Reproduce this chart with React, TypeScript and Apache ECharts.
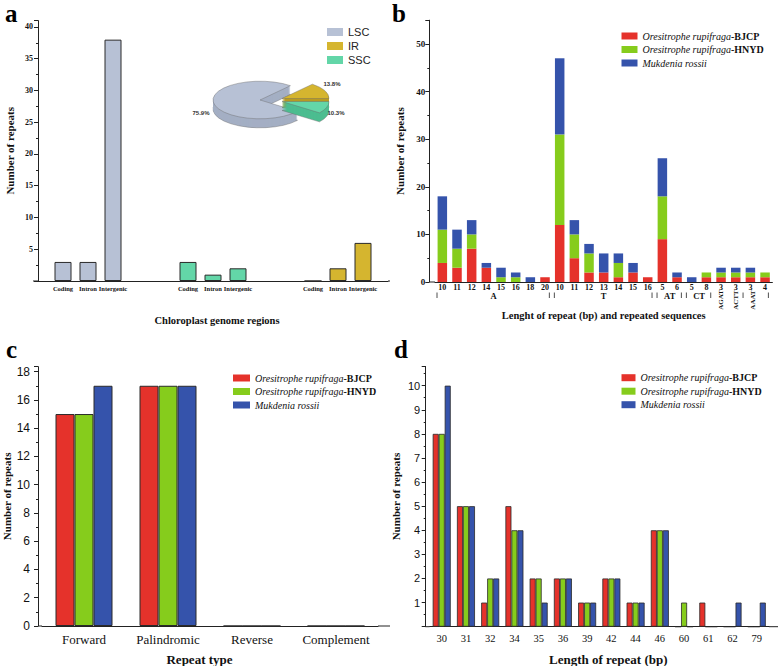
import React, { useEffect, useRef } from 'react';
import * as echarts from 'echarts';

const SERIF = "'Liberation Serif', 'Times New Roman', serif";
const SANS = "'Liberation Sans', Arial, sans-serif";
const INK = '#111';

// ---------- panel a : repeats per chloroplast region ----------
const regionNames = ['LSC', 'IR', 'SSC'];
const regionCategories = ['', 'Coding', 'Intron', 'Intergenic', '', '', 'Coding', 'Intron', 'Intergenic', '', '', 'Coding', 'Intron', 'Intergenic', ''];
const lscRepeats = [3, 3, 38];
const sscRepeats = [3, 1, 2];
const irRepeats = [0, 2, 6];
const regionShare = [75.9, 13.8, 10.3]; // LSC, IR, SSC

// ---------- panel b : SSR length and motif ----------
const ssrLengths = ['10', '11', '12', '14', '15', '16', '18', '20', '10', '11', '12', '13', '14', '15', '16', '5', '6', '5', '8', '3', '3', '3', '4'];
const ssrGroups = ['A', 'T', 'AT', 'CT'];
const ssrGroupSpans = [[0, 7], [8, 14], [15, 16], [17, 18]];
const ssrMotifs = ['AGAT', 'ACTT', 'AAAT'];
const ssrMotifIndex = [19, 20, 21];
const ssrBJCP = [4, 3, 7, 3, 0, 0, 0, 1, 12, 5, 2, 2, 1, 2, 1, 9, 1, 0, 1, 1, 1, 1, 1];
const ssrHNYD = [7, 4, 3, 0, 1, 1, 0, 0, 19, 5, 4, 0, 3, 0, 0, 9, 0, 0, 1, 1, 1, 1, 1];
const ssrMukdenia = [7, 4, 3, 1, 2, 1, 1, 0, 16, 3, 2, 4, 2, 2, 0, 8, 1, 1, 0, 1, 1, 1, 0];

// ---------- panel c : repeat types ----------
const repeatTypes = ['Forward', 'Palindromic', 'Reverse', 'Complement'];
const typeBJCP = [15, 17, 0, 0];
const typeHNYD = [15, 17, 0, 0];
const typeMukdenia = [17, 17, 0, 0];

// ---------- panel d : repeat lengths ----------
const repeatLengths = ['30', '31', '32', '34', '35', '36', '39', '42', '44', '46', '60', '61', '62', '79'];
const lenBJCP = [8, 5, 1, 5, 2, 2, 1, 2, 1, 4, 0, 1, 0, 0];
const lenHNYD = [8, 5, 2, 4, 2, 2, 1, 2, 1, 4, 1, 0, 0, 0];
const lenMukdenia = [10, 5, 2, 4, 1, 2, 1, 2, 1, 4, 0, 0, 1, 1];

const speciesNames = ['Oresitrophe rupifraga-BJCP', 'Oresitrophe rupifraga-HNYD', 'Mukdenia rossii'];

// ---------- styling ----------
const regionColors = ['#b7c1d5', '#d5b52f', '#63d6a8'];
const regionSideColors = ['#a4afc4', '#b89a22', '#4cbd90'];
const speciesColors = ['#e5322b', '#86cc1c', '#3553ab'];

const GA = { left: 38, top: 20.6, width: 350, height: 260.4 };
const GB = { left: 435, top: 20.2, width: 337.4, height: 261.8 };
const GC = { left: 42, top: 366.7, width: 336, height: 259.3 };
const GD = { left: 429.6, top: 366.4, width: 339.3, height: 260.3 };

const pieCenter = [260, 100];
const pieShift = [[0, 0], [22, -1.5], [22, 1.5]];
const pieLabelPos = [[201, 113], [332, 84], [336, 113]];

function buildOption() {
  const lineStyle = { color: '#222', width: 1 };

  const yAxis = (gridIndex: number, max: number, interval: number, offset: number, label: any, nameGap: number, showMin: boolean) => ({
    type: 'value', gridIndex, min: 0, max, interval, offset,
    axisLine: { show: true, lineStyle },
    axisTick: { show: true, length: 4, lineStyle },
    minorTick: { show: true, splitNumber: 2, length: 2, lineStyle },
    splitLine: { show: false },
    axisLabel: { showMaxLabel: false, showMinLabel: showMin, color: INK, ...label },
    name: 'Number of repeats', nameLocation: 'middle', nameGap,
    nameTextStyle: { fontFamily: SERIF, fontWeight: 'bold', fontSize: 11, color: INK },
  });

  const xAxis = (gridIndex: number, data: string[], label: any, name: string, nameGap: number, nameSize: number, namePad: number[], boundaryGap = true) => ({
    type: 'category', gridIndex, data, boundaryGap,
    axisLine: { show: true, lineStyle },
    axisTick: { show: false },
    axisLabel: { interval: 0, color: INK, ...label },
    name, nameLocation: 'middle', nameGap,
    nameTextStyle: { fontFamily: SERIF, fontWeight: 'bold', fontSize: nameSize, color: INK, padding: namePad },
  });

  // panel a series (one per region, stacked so that they share the slot)
  const regionSlots = [[1, 2, 3], [11, 12, 13], [6, 7, 8]];
  const regionValues = [lscRepeats, irRepeats, sscRepeats];
  const aSeries = regionNames.map((n, r) => {
    const data: any[] = regionCategories.map(() => '-');
    regionSlots[r].forEach((slot, k) => { data[slot] = regionValues[r][k]; });
    return {
      type: 'bar', name: n, xAxisIndex: 0, yAxisIndex: 0, stack: 'region', barWidth: 17,
      data, itemStyle: { color: regionColors[r], borderColor: '#2a2a2a', borderWidth: 1 },
    };
  });

  const pieSeries = {
    type: 'custom', name: 'Region share', coordinateSystem: 'none', silent: true, z: 5,
    data: regionShare.map((v, i) => ({ name: regionNames[i], value: v })),
    renderItem: (params: any) => {
      const i = params.dataIndex;
      const total = regionShare.reduce((s, v) => s + v, 0);
      const ang = regionShare.map((v) => (v / total) * Math.PI * 2);
      const order = [1, 2, 0];
      let start = -ang[1];
      for (const k of order) { if (k === i) break; start += ang[k]; }
      const end = start + ang[i];
      const sq = 0.4, r = 47, thick = 9;
      const cx = pieCenter[0] + pieShift[i][0];
      const cy = pieCenter[1] + pieShift[i][1];
      const children: any[] = [];
      for (let t = thick; t >= 1; t--) {
        children.push({
          type: 'sector', shape: { cx: 0, cy: t / sq, r, r0: 0, startAngle: start, endAngle: end, clockwise: true },
          style: { fill: regionSideColors[i], stroke: t === thick ? '#6a6a6a' : null, lineWidth: 0.6, strokeNoScale: true },
        });
      }
      children.push({
        type: 'sector', shape: { cx: 0, cy: 0, r, r0: 0, startAngle: start, endAngle: end, clockwise: true },
        style: { fill: regionColors[i], stroke: '#6a6a6a', lineWidth: 0.6, strokeNoScale: true },
      });
      return {
        type: 'group', x: cx, y: cy,
        children: [
          { type: 'group', scaleY: sq, children },
          {
            type: 'text', x: pieLabelPos[i][0] - cx, y: pieLabelPos[i][1] - cy,
            style: { text: regionShare[i].toFixed(1) + '%', fontFamily: SANS, fontWeight: 'bold', fontSize: 6, fill: '#333', align: 'center', verticalAlign: 'middle' },
          },
        ],
      };
    },
  };

  const speciesItem = (k: number, border: number) => ({ color: speciesColors[k], borderColor: '#2a2a2a', borderWidth: border });
  const bSeries = [ssrBJCP, ssrHNYD, ssrMukdenia].map((d, k) => ({
    type: 'bar', name: speciesNames[k], xAxisIndex: 1, yAxisIndex: 1, stack: 'ssr', barWidth: 9.5, data: d,
    itemStyle: { color: speciesColors[k] },
  }));
  const cSeries = [typeBJCP, typeHNYD, typeMukdenia].map((d, k) => ({
    type: 'bar', name: speciesNames[k], xAxisIndex: 2, yAxisIndex: 2, barWidth: 19, barGap: '0%', data: d,
    itemStyle: speciesItem(k, 1),
  }));
  const dSeries = [lenBJCP, lenHNYD, lenMukdenia].map((d, k) => ({
    type: 'bar', name: speciesNames[k], xAxisIndex: 3, yAxisIndex: 3, barWidth: 6, barGap: '0%', data: d,
    itemStyle: speciesItem(k, 0.8),
  }));

  const legendFormatter = (name: string) => {
    const m = name.match(/^(.*)(-[A-Z]+)$/);
    return m ? `{i|${m[1]}}{b|${m[2]}}` : `{i|${name}}`;
  };
  const speciesLegend = (left: number, top: number, w: number) => ({
    data: speciesNames, left, top, orient: 'vertical', icon: 'rect', itemWidth: w, itemHeight: 7, itemGap: 1.5,
    selectedMode: false, formatter: legendFormatter, itemStyle: { borderWidth: 0 },
    textStyle: {
      lineHeight: 12,
      rich: {
        i: { fontFamily: SERIF, fontStyle: 'italic', fontSize: 10, color: INK },
        b: { fontFamily: SERIF, fontWeight: 'bold', fontSize: 10, color: INK },
      },
    },
  });

  // panel b group labels
  const slotB = GB.width / ssrLengths.length;
  const bx = (i: number) => GB.left + (i + 0.5) * slotB;
  const bEdge = (i: number) => GB.left + i * slotB;
  const graphics: any[] = [];
  const sep = (x: number) => graphics.push({ type: 'line', shape: { x1: x, y1: 292.5, x2: x, y2: 298 }, style: { stroke: '#222', lineWidth: 0.8 } });
  ssrGroups.forEach((g, gi) => {
    const [s, e] = ssrGroupSpans[gi];
    graphics.push({
      type: 'text', x: (bx(s) + bx(e)) / 2, y: 295.5,
      style: { text: g, fontFamily: SERIF, fontWeight: 'bold', fontSize: 8.5, fill: INK, align: 'center', verticalAlign: 'middle' },
    });
    sep(bEdge(s) + 2);
    sep(bEdge(e + 1) - 3);
  });
  sep(bEdge(21));
  sep(bEdge(ssrLengths.length) - 4);
  ssrMotifs.forEach((m, k) => {
    graphics.push({
      type: 'text', x: bx(ssrMotifIndex[k]) + (k === 2 ? 2.5 : 0), y: 300, rotation: Math.PI / 2,
      style: { text: m, fontFamily: SERIF, fontWeight: 'bold', fontSize: 7, fill: INK, align: 'center', verticalAlign: 'middle' },
    });
  });

  // panel letters
  [['a', 5, 1], ['b', 392, 1], ['c', 6, 337], ['d', 394, 337]].forEach(([t, x, y]) => {
    graphics.push({ type: 'text', x, y, style: { text: t, fontFamily: SERIF, fontWeight: 'bold', fontSize: 25, fill: '#000' } });
  });

  // x-axis line extensions beyond the category slots
  const ext = (x1: number, x2: number, y: number) => graphics.push({ type: 'line', shape: { x1, y1: y, x2, y2: y }, style: { stroke: '#222', lineWidth: 1 } });
  ext(33, GA.left, GA.top + GA.height);
  ext(GA.left + GA.width, 390, GA.top + GA.height);
  ext(429.3, GB.left, GB.top + GB.height);
  ext(38, GC.left, GC.top + GC.height);
  ext(GC.left + GC.width, 390, GC.top + GC.height);
  ext(425.7, GD.left, GD.top + GD.height);
  ext(GD.left + GD.width, 778, GD.top + GD.height);

  const boldSerif = (size: number, margin: number) => ({ fontFamily: SERIF, fontWeight: 'bold', fontSize: size, margin });

  return {
    animation: false,
    backgroundColor: '#fff',
    grid: [GA, GB, GC, GD].map((g) => ({ ...g, outerBoundsMode: 'none', containLabel: false })),
    xAxis: [
      xAxis(0, regionCategories, boldSerif(6.5, 4), 'Chloroplast genome regions', 34, 10.5, [0, 0, 0, 8], false),
      xAxis(1, ssrLengths, boldSerif(8, 1.5), 'Lenght of repeat (bp) and repeated sequences', 28, 10.5, [0, 0, 0, 0]),
      xAxis(2, repeatTypes, { fontFamily: SERIF, fontSize: 13, margin: 7 }, 'Repeat type', 27, 13, [0, 21, 0, 0]),
      xAxis(3, repeatLengths, { fontFamily: SERIF, fontSize: 10.5, margin: 6 }, 'Length of repeat (bp)', 26, 13, [0, 0, 0, 18]),
    ],
    yAxis: [
      yAxis(0, 41, 5, 0, { fontFamily: SERIF, fontWeight: 'bold', fontSize: 8, margin: 5 }, 23, false),
      yAxis(1, 55, 10, GB.left - 429.3, { fontFamily: SERIF, fontWeight: 'bold', fontSize: 9, margin: 4 }, 24, true),
      yAxis(2, 18.35, 2, GC.left - 38, { fontFamily: SANS, fontSize: 12, margin: 8 }, 26, true),
      yAxis(3, 10.8, 1, GD.left - 425.7, { fontFamily: SANS, fontSize: 11, margin: 5.5 }, 24, false),
    ],
    legend: [
      {
        data: regionNames, left: 322, top: 20.5, orient: 'vertical', icon: 'rect', itemWidth: 16, itemHeight: 8, itemGap: 1,
        selectedMode: false, itemStyle: { borderWidth: 0 },
        textStyle: { fontFamily: SANS, fontSize: 11, color: '#222', lineHeight: 13 },
      },
      speciesLegend(616.5, 25, 16),
      speciesLegend(228, 367, 17),
      speciesLegend(616.5, 366.7, 14),
    ],
    graphic: graphics,
    series: [...aSeries, pieSeries, ...bSeries, ...cSeries, ...dSeries],
  };
}

export default function App() {
  const ref = useRef<HTMLDivElement>(null);
  useEffect(() => {
    if (!ref.current) return;
    const chart = echarts.init(ref.current, undefined, { renderer: 'svg' });
    chart.setOption(buildOption() as any);
    return () => chart.dispose();
  }, []);
  return <div ref={ref} style={{ position: 'fixed', left: 0, top: 0, width: 779, height: 666, background: '#fff' }} />;
}
